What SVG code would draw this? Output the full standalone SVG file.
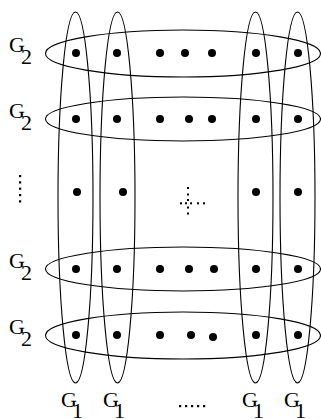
<svg xmlns="http://www.w3.org/2000/svg" width="321" height="419" viewBox="0 0 321 419">
<style>
.e{fill:none;stroke:#000;stroke-width:1.1}
.d{fill:#000}
.s{fill:#000}
.t{font-family:"Liberation Serif","Times New Roman",serif;font-size:22px;fill:#000}
</style>
<rect width="321" height="419" fill="#fff"/>
<g id="connectors">
<g id="g1-col1"><ellipse class="e" cx="75.5" cy="197.5" rx="17.5" ry="185.5"/></g>
<g id="g1-col2"><ellipse class="e" cx="117.5" cy="197.5" rx="17.5" ry="185.5"/></g>
<g id="g1-col3"><ellipse class="e" cx="255.5" cy="197.5" rx="17.5" ry="185.5"/></g>
<g id="g1-col4"><ellipse class="e" cx="297.5" cy="197.5" rx="17.5" ry="185.5"/></g>
<g id="g2-row1"><ellipse class="e" cx="183" cy="53.5" rx="137.5" ry="23.5"/></g>
<g id="g2-row2"><ellipse class="e" cx="183" cy="119" rx="137.5" ry="22"/></g>
<g id="g2-row3"><ellipse class="e" cx="183" cy="269" rx="137.5" ry="22"/></g>
<g id="g2-row4"><ellipse class="e" cx="183" cy="335.5" rx="137.5" ry="23.5"/></g>
</g>
<g id="row1" class="d">
<circle cx="76" cy="53" r="4"/><circle cx="117" cy="53" r="4"/><circle cx="160" cy="53" r="4"/><circle cx="185" cy="53" r="4"/><circle cx="212" cy="53" r="4"/><circle cx="256" cy="53" r="4"/><circle cx="298" cy="53" r="4"/>
</g>
<g id="row2" class="d">
<circle cx="76" cy="119" r="4"/><circle cx="117" cy="119" r="4"/><circle cx="160" cy="119" r="4"/><circle cx="189" cy="119" r="4"/><circle cx="212" cy="119" r="4"/><circle cx="256" cy="119" r="4"/><circle cx="298" cy="119" r="4"/>
</g>
<g id="rowmid" class="d">
<circle cx="77" cy="192" r="4"/><circle cx="123" cy="192" r="4"/><circle cx="256" cy="192" r="4"/><circle cx="298" cy="192" r="4"/>
</g>
<g id="row3" class="d">
<circle cx="76" cy="269" r="4"/><circle cx="117" cy="269" r="4"/><circle cx="160" cy="269" r="4"/><circle cx="189" cy="269" r="4"/><circle cx="214" cy="269" r="4"/><circle cx="256" cy="269" r="4"/><circle cx="298" cy="269" r="4"/>
</g>
<g id="row4" class="d">
<circle cx="76" cy="335" r="4"/><circle cx="117" cy="335" r="4"/><circle cx="160" cy="335" r="4"/><circle cx="191" cy="335" r="4"/><circle cx="213" cy="337" r="4"/><circle cx="256" cy="335" r="4"/><circle cx="298" cy="335" r="4"/>
</g>
<g id="vdots" class="s">
<rect x="19" y="175" width="2.2" height="2.2"/><rect x="19" y="181.3" width="2.2" height="2.2"/><rect x="19" y="187.6" width="2.2" height="2.2"/><rect x="19" y="194" width="2.2" height="2.2"/><rect x="19" y="200.3" width="2.2" height="2.2"/>
</g>
<g id="cross" class="s">
<rect x="187" y="187" width="2" height="2"/><rect x="187" y="193.5" width="2" height="2"/><rect x="187" y="199" width="2" height="2"/><rect x="187" y="206.5" width="2" height="2"/><rect x="187" y="212.5" width="2" height="2"/>
<rect x="180" y="202.3" width="2" height="2"/><rect x="185" y="202.3" width="2" height="2"/><rect x="190" y="202.3" width="2" height="2"/><rect x="197" y="202.3" width="2" height="2"/><rect x="203" y="202.3" width="2" height="2"/>
</g>
<g id="hdots" class="s">
<rect x="179" y="405" width="2.2" height="2.2"/><rect x="185" y="405" width="2.2" height="2.2"/><rect x="191" y="405" width="2.2" height="2.2"/><rect x="197" y="405" width="2.2" height="2.2"/><rect x="203" y="405" width="2.2" height="2.2"/>
</g>
<g id="labels-g2" class="t">
<text x="9" y="52">G<tspan dx="-4" dy="12">2</tspan></text>
<text x="9" y="118">G<tspan dx="-4" dy="12">2</tspan></text>
<text x="9" y="268">G<tspan dx="-4" dy="12">2</tspan></text>
<text x="9" y="334">G<tspan dx="-4" dy="12">2</tspan></text>
</g>
<g id="labels-g1" class="t">
<text x="61" y="407">G<tspan dx="-5" dy="11">1</tspan></text>
<text x="103" y="407">G<tspan dx="-5" dy="11">1</tspan></text>
<text x="242" y="407">G<tspan dx="-5" dy="11">1</tspan></text>
<text x="284" y="407">G<tspan dx="-5" dy="11">1</tspan></text>
</g>
</svg>
